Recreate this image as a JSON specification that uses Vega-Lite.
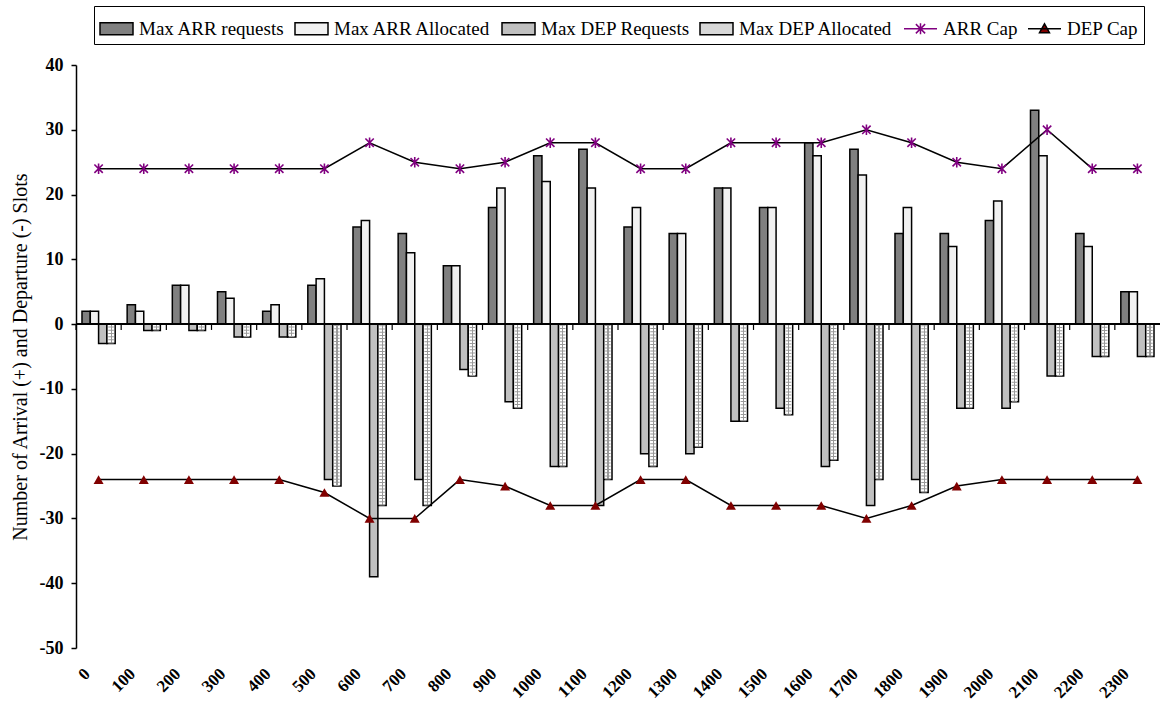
{
  "$schema": "https://vega.github.io/schema/vega-lite/v6.json",
  "width": 1084,
  "height": 583,
  "autosize": {"type": "none"},
  "padding": {"left": 76, "top": 65, "right": 0, "bottom": 58},
  "background": "white",
  "config": {
    "font": "Liberation Serif",
    "view": {"stroke": null},
    "axis": {
      "domainColor": "black", "domainWidth": 1.5, "tickColor": "black", "tickWidth": 1.5, "tickSize": 5,
      "labelFont": "Liberation Serif", "labelFontSize": 18, "labelFontWeight": "bold", "labelColor": "black",
      "titleFont": "Liberation Serif", "titleFontSize": 20, "titleFontWeight": "normal", "titleColor": "black",
      "grid": false
    }
  },
  "data": {
    "values": [
      {"hour": "0", "Max ARR requests": 2, "Max ARR Allocated": 2, "Max DEP Requests": -3, "Max DEP Allocated": -3, "ARR Cap": 24, "DEP Cap": -24},
      {"hour": "100", "Max ARR requests": 3, "Max ARR Allocated": 2, "Max DEP Requests": -1, "Max DEP Allocated": -1, "ARR Cap": 24, "DEP Cap": -24},
      {"hour": "200", "Max ARR requests": 6, "Max ARR Allocated": 6, "Max DEP Requests": -1, "Max DEP Allocated": -1, "ARR Cap": 24, "DEP Cap": -24},
      {"hour": "300", "Max ARR requests": 5, "Max ARR Allocated": 4, "Max DEP Requests": -2, "Max DEP Allocated": -2, "ARR Cap": 24, "DEP Cap": -24},
      {"hour": "400", "Max ARR requests": 2, "Max ARR Allocated": 3, "Max DEP Requests": -2, "Max DEP Allocated": -2, "ARR Cap": 24, "DEP Cap": -24},
      {"hour": "500", "Max ARR requests": 6, "Max ARR Allocated": 7, "Max DEP Requests": -24, "Max DEP Allocated": -25, "ARR Cap": 24, "DEP Cap": -26},
      {"hour": "600", "Max ARR requests": 15, "Max ARR Allocated": 16, "Max DEP Requests": -39, "Max DEP Allocated": -28, "ARR Cap": 28, "DEP Cap": -30},
      {"hour": "700", "Max ARR requests": 14, "Max ARR Allocated": 11, "Max DEP Requests": -24, "Max DEP Allocated": -28, "ARR Cap": 25, "DEP Cap": -30},
      {"hour": "800", "Max ARR requests": 9, "Max ARR Allocated": 9, "Max DEP Requests": -7, "Max DEP Allocated": -8, "ARR Cap": 24, "DEP Cap": -24},
      {"hour": "900", "Max ARR requests": 18, "Max ARR Allocated": 21, "Max DEP Requests": -12, "Max DEP Allocated": -13, "ARR Cap": 25, "DEP Cap": -25},
      {"hour": "1000", "Max ARR requests": 26, "Max ARR Allocated": 22, "Max DEP Requests": -22, "Max DEP Allocated": -22, "ARR Cap": 28, "DEP Cap": -28},
      {"hour": "1100", "Max ARR requests": 27, "Max ARR Allocated": 21, "Max DEP Requests": -28, "Max DEP Allocated": -24, "ARR Cap": 28, "DEP Cap": -28},
      {"hour": "1200", "Max ARR requests": 15, "Max ARR Allocated": 18, "Max DEP Requests": -20, "Max DEP Allocated": -22, "ARR Cap": 24, "DEP Cap": -24},
      {"hour": "1300", "Max ARR requests": 14, "Max ARR Allocated": 14, "Max DEP Requests": -20, "Max DEP Allocated": -19, "ARR Cap": 24, "DEP Cap": -24},
      {"hour": "1400", "Max ARR requests": 21, "Max ARR Allocated": 21, "Max DEP Requests": -15, "Max DEP Allocated": -15, "ARR Cap": 28, "DEP Cap": -28},
      {"hour": "1500", "Max ARR requests": 18, "Max ARR Allocated": 18, "Max DEP Requests": -13, "Max DEP Allocated": -14, "ARR Cap": 28, "DEP Cap": -28},
      {"hour": "1600", "Max ARR requests": 28, "Max ARR Allocated": 26, "Max DEP Requests": -22, "Max DEP Allocated": -21, "ARR Cap": 28, "DEP Cap": -28},
      {"hour": "1700", "Max ARR requests": 27, "Max ARR Allocated": 23, "Max DEP Requests": -28, "Max DEP Allocated": -24, "ARR Cap": 30, "DEP Cap": -30},
      {"hour": "1800", "Max ARR requests": 14, "Max ARR Allocated": 18, "Max DEP Requests": -24, "Max DEP Allocated": -26, "ARR Cap": 28, "DEP Cap": -28},
      {"hour": "1900", "Max ARR requests": 14, "Max ARR Allocated": 12, "Max DEP Requests": -13, "Max DEP Allocated": -13, "ARR Cap": 25, "DEP Cap": -25},
      {"hour": "2000", "Max ARR requests": 16, "Max ARR Allocated": 19, "Max DEP Requests": -13, "Max DEP Allocated": -12, "ARR Cap": 24, "DEP Cap": -24},
      {"hour": "2100", "Max ARR requests": 33, "Max ARR Allocated": 26, "Max DEP Requests": -8, "Max DEP Allocated": -8, "ARR Cap": 30, "DEP Cap": -24},
      {"hour": "2200", "Max ARR requests": 14, "Max ARR Allocated": 12, "Max DEP Requests": -5, "Max DEP Allocated": -5, "ARR Cap": 24, "DEP Cap": -24},
      {"hour": "2300", "Max ARR requests": 5, "Max ARR Allocated": 5, "Max DEP Requests": -5, "Max DEP Allocated": -5, "ARR Cap": 24, "DEP Cap": -24}
    ]
  },
  "layer": [
    {
      "transform": [{"fold": ["Max ARR requests", "Max ARR Allocated", "Max DEP Requests", "Max DEP Allocated"]}],
      "mark": {"type": "bar", "stroke": "black", "strokeWidth": 1.5},
      "encoding": {
        "x": {
          "field": "hour", "type": "nominal",
          "scale": {"domain": ["0","100","200","300","400","500","600","700","800","900","1000","1100","1200","1300","1400","1500","1600","1700","1800","1900","2000","2100","2200","2300"], "paddingInner": 0.265, "paddingOuter": 0.1325},
          "axis": {"title": null, "domain": false, "ticks": false, "labelAngle": -45, "labelAlign": "right", "labelBaseline": "middle", "labelPadding": 23, "labelOffset": -11, "labelFontSize": 17}
        },
        "xOffset": {"field": "key", "type": "nominal", "scale": {"domain": ["Max ARR requests", "Max ARR Allocated", "Max DEP Requests", "Max DEP Allocated"], "paddingInner": 0, "paddingOuter": 0}},
        "y": {
          "field": "value", "type": "quantitative",
          "scale": {"domain": [-50, 40], "nice": false, "zero": false},
          "axis": {"values": [-50, -40, -30, -20, -10, 0, 10, 20, 30, 40], "labelExpr": "'' + datum.value", "labelPadding": 8, "titlePadding": 9},
          "title": "Number of Arrival (+) and Departure (-) Slots"
        },
        "color": {
          "field": "key", "type": "nominal",
          "condition": {"test": "datum.key === 'Max DEP Allocated'", "value": {"gradient": "linear", "x1": 0, "y1": 0, "x2": 1, "y2": 0, "stops": [{"offset": 0, "color": "white"}, {"offset": 0.44, "color": "white"}, {"offset": 0.44, "color": "#9a9a9a"}, {"offset": 0.58, "color": "#9a9a9a"}, {"offset": 0.58, "color": "white"}, {"offset": 1, "color": "white"}]}},
          "scale": {
            "domain": ["Max ARR requests", "Max ARR Allocated", "Max DEP Requests", "Max DEP Allocated", "ARR Cap", "DEP Cap"],
            "range": ["#808080", "#f1f1f1", "#c0c0c0", "#d8d8d8", "#800080", "#800000"]
          },
          "legend": {
            "orient": "none", "legendX": 18, "legendY": -59, "direction": "horizontal", "columns": 6,
            "title": null, "labelFont": "Liberation Serif", "labelFontSize": 19, "labelColor": "black", "labelOffset": 5,
            "columnPadding": 7, "padding": 5, "strokeColor": "black", "fillColor": "white",
            "symbolSize": 1089, "symbolStrokeColor": "black", "symbolStrokeWidth": 1.5, "symbolOpacity": 1,
            "encode": {
              "symbols": {
                "update": {
                  "shape": [
                    {"test": "datum.value === 'ARR Cap'", "value": "M-1,0H1M-0.28,-0.28L0.28,0.28M-0.28,0.28L0.28,-0.28M0,-0.34V0.34"},
                    {"test": "datum.value === 'DEP Cap'", "value": "M-1,0H1M-0.3,0.24L0,-0.3L0.3,0.24Z"},
                    {"value": "M-1,-0.364H1V0.364H-1Z"}
                  ],
                  "stroke": [
                    {"test": "datum.value === 'ARR Cap'", "value": "#800080"},
                    {"value": "black"}
                  ]
                }
              }
            }
          }
        }
      }
    },
    {
      "transform": [{"fold": ["Max ARR requests", "Max ARR Allocated", "Max DEP Requests", "Max DEP Allocated"]}, {"filter": "datum.key === 'Max DEP Allocated'"}],
      "mark": {"type": "rule", "stroke": "#9a9a9a", "strokeWidth": 5.5, "strokeDash": [1, 2.2]},
      "encoding": {
        "x": {"field": "hour", "type": "nominal"},
        "xOffset": {"field": "key", "type": "nominal", "scale": {"domain": ["Max ARR requests", "Max ARR Allocated", "Max DEP Requests", "Max DEP Allocated"]}},
        "y": {"field": "value", "type": "quantitative", "title": "Number of Arrival (+) and Departure (-) Slots"},
        "y2": {"datum": -0.15}
      }
    },
    {
      "mark": {"type": "rule", "stroke": "black", "strokeWidth": 1.5},
      "encoding": {"y": {"datum": 0, "title": "Number of Arrival (+) and Departure (-) Slots"}}
    },
    {
      "mark": {"type": "rule", "stroke": "black", "strokeWidth": 1.2},
      "encoding": {
        "x": {"field": "hour", "type": "nominal", "bandPosition": -0.18},
        "y": {"datum": 0, "title": "Number of Arrival (+) and Departure (-) Slots"},
        "y2": {"datum": -0.9}
      }
    },
    {
      "transform": [{"fold": ["ARR Cap", "DEP Cap"], "as": ["capkey", "cap"]}],
      "mark": {"type": "line", "color": "black", "strokeWidth": 1.5},
      "encoding": {
        "x": {"field": "hour", "type": "nominal"},
        "y": {"field": "cap", "type": "quantitative", "title": "Number of Arrival (+) and Departure (-) Slots"},
        "detail": {"field": "capkey"}
      }
    },
    {
      "mark": {"type": "point", "shape": "M-0.8,-0.8L0.8,0.8M-0.8,0.8L0.8,-0.8M0,-1V1", "size": 110, "filled": false, "stroke": "#800080", "strokeWidth": 1.6, "opacity": 1},
      "encoding": {
        "x": {"field": "hour", "type": "nominal"},
        "y": {"field": "ARR Cap", "type": "quantitative", "title": "Number of Arrival (+) and Departure (-) Slots"}
      }
    },
    {
      "mark": {"type": "point", "shape": "triangle-up", "size": 100, "filled": true, "fill": "#800000", "strokeWidth": 0, "opacity": 1},
      "encoding": {
        "x": {"field": "hour", "type": "nominal"},
        "y": {"field": "DEP Cap", "type": "quantitative", "title": "Number of Arrival (+) and Departure (-) Slots"}
      }
    }
  ]
}
